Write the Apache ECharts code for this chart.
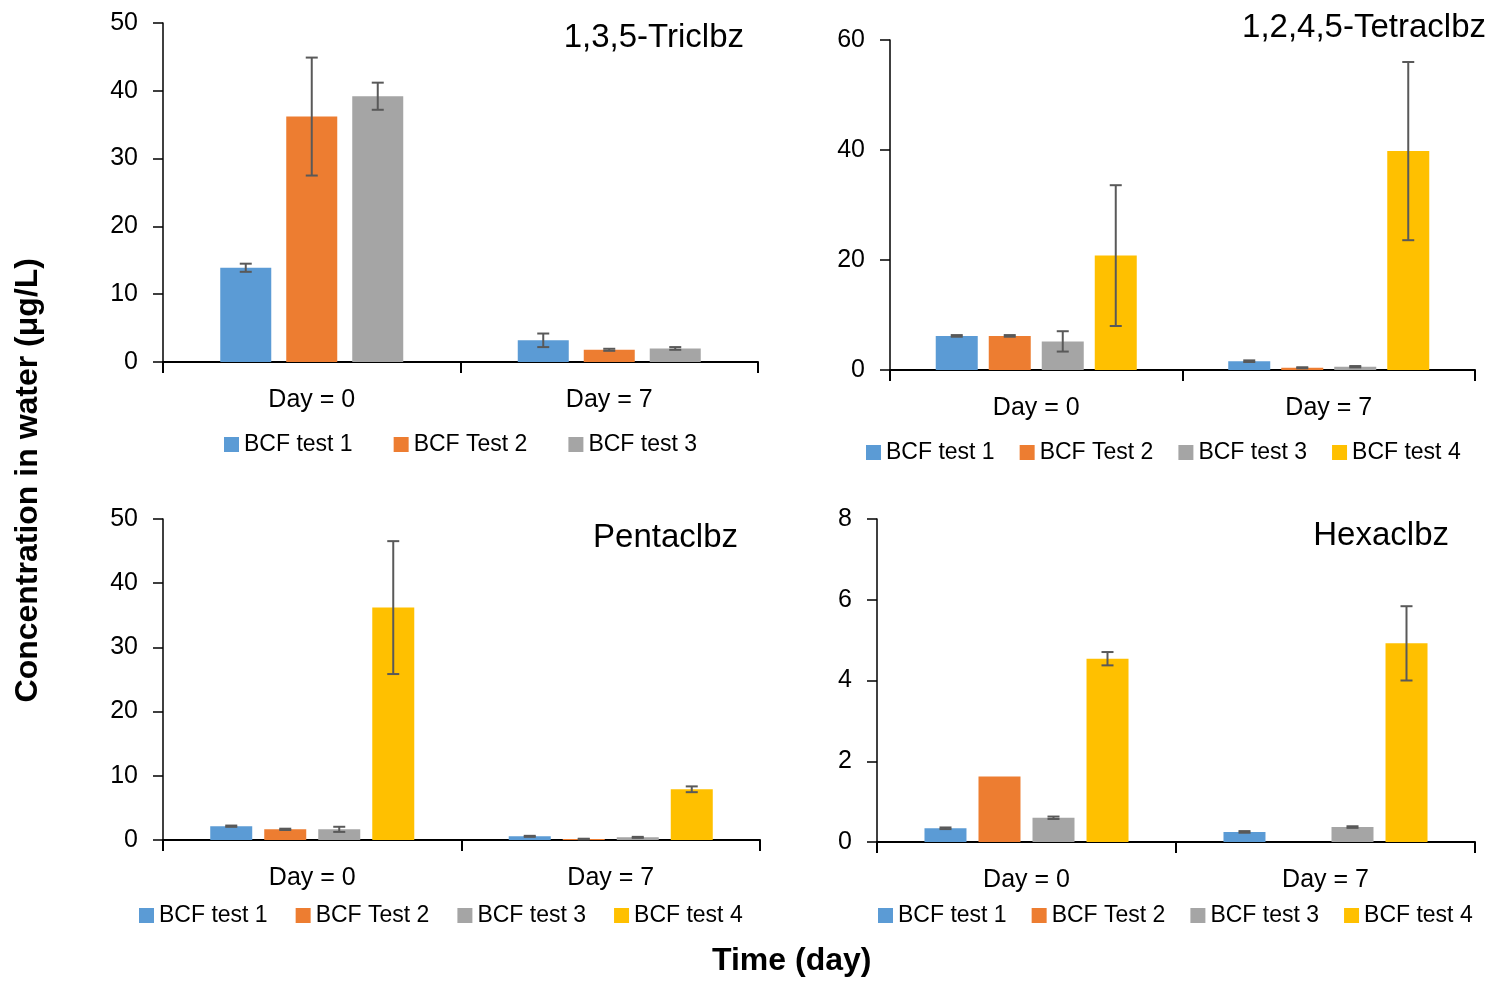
<!DOCTYPE html>
<html>
<head>
<meta charset="utf-8">
<script src="https://cdn.jsdelivr.net/npm/echarts@6/dist/echarts.min.js"></script>
<style>html,body{margin:0;padding:0;background:#fff;}#chart{width:1493px;height:981px;}</style>
</head>
<body>
<div id="chart"></div>
<script>
// ---------- DATA ----------
const categories = ['Day = 0', 'Day = 7'];
const testNames = ['BCF test 1', 'BCF Test 2', 'BCF test 3', 'BCF test 4'];
const panelTitles = ['1,3,5-Triclbz', '1,2,4,5-Tetraclbz', 'Pentaclbz', 'Hexaclbz'];

const yMax = [50, 60, 50, 8];
const yInterval = [10, 20, 10, 2];

// 1,3,5-Triclbz
const triTest1 = [13.9, 3.2];   const triTest1Err = [0.6, 1.0];
const triTest2 = [36.2, 1.8];   const triTest2Err = [8.7, 0.15];
const triTest3 = [39.2, 2.0];   const triTest3Err = [2.0, 0.2];

// 1,2,4,5-Tetraclbz
const tetraTest1 = [6.2, 1.6];  const tetraTest1Err = [0.15, 0.15];
const tetraTest2 = [6.2, 0.4];  const tetraTest2Err = [0.15, 0.1];
const tetraTest3 = [5.2, 0.6];  const tetraTest3Err = [1.85, 0.12];
const tetraTest4 = [20.8, 39.8]; const tetraTest4Err = [12.8, 16.2];

// Pentaclbz
const pentaTest1 = [2.15, 0.57]; const pentaTest1Err = [0.1, 0.08];
const pentaTest2 = [1.66, 0.15]; const pentaTest2Err = [0.1, 0.05];
const pentaTest3 = [1.66, 0.41]; const pentaTest3Err = [0.4, 0.08];
const pentaTest4 = [36.2, 7.9];  const pentaTest4Err = [10.35, 0.45];

// Hexaclbz
const hexaTest1 = [0.34, 0.25]; const hexaTest1Err = [0.02, 0.02];
const hexaTest2 = [1.62, null]; const hexaTest2Err = [null, null];
const hexaTest3 = [0.60, 0.37]; const hexaTest3Err = [0.03, 0.02];
const hexaTest4 = [4.54, 4.92]; const hexaTest4Err = [0.165, 0.92];

const panelValues = [
  [triTest1, triTest2, triTest3],
  [tetraTest1, tetraTest2, tetraTest3, tetraTest4],
  [pentaTest1, pentaTest2, pentaTest3, pentaTest4],
  [hexaTest1, hexaTest2, hexaTest3, hexaTest4]
];
const panelErrors = [
  [triTest1Err, triTest2Err, triTest3Err],
  [tetraTest1Err, tetraTest2Err, tetraTest3Err, tetraTest4Err],
  [pentaTest1Err, pentaTest2Err, pentaTest3Err, pentaTest4Err],
  [hexaTest1Err, hexaTest2Err, hexaTest3Err, hexaTest4Err]
];

// ---------- LAYOUT / STYLE ----------
const colors = ['#5B9BD5', '#ED7D31', '#A5A5A5', '#FFC000'];
const FONT = "'Liberation Sans', Arial, sans-serif";
const W = 1493, H = 981;
const grids = [
  {left: 163, top: 23, width: 595, height: 339},
  {left: 890, top: 40, width: 585, height: 330},
  {left: 163, top: 519, width: 597, height: 321},
  {left: 877, top: 519, width: 598, height: 323}
];
const barW = [51, 42, 42, 42];
const barGapPx = [15, 11, 12, 12];
const titlePos = [
  {right: W - 744, top: 21},
  {right: W - 1486, top: 11},
  {right: W - 738, top: 521},
  {right: W - 1449, top: 519}
];
const legendPos = [
  {left: 224, top: 433, itemGap: 41},
  {left: 866, top: 441, itemGap: 25},
  {left: 139, top: 904, itemGap: 28},
  {left: 878, top: 904, itemGap: 25}
];

const option = {
  animation: false,
  backgroundColor: '#fff',
  textStyle: {fontFamily: FONT},
  title: [], legend: [], grid: [], xAxis: [], yAxis: [], series: [],
  graphic: [
    {type: 'text', left: 12, top: 258, rotation: Math.PI / 2,
     style: {text: 'Concentration in water (μg/L)', font: 'bold 32px ' + FONT, fill: '#000'}},
    {type: 'text', left: 712, top: 945,
     style: {text: 'Time (day)', font: 'bold 32px ' + FONT, fill: '#000'}}
  ]
};

panelValues.forEach((vals, p) => {
  const g = grids[p];
  option.grid.push({left: g.left, top: g.top, width: g.width, height: g.height, containLabel: false});
  option.title.push({
    text: panelTitles[p], right: titlePos[p].right, top: titlePos[p].top, padding: 0,
    textStyle: {fontFamily: FONT, fontSize: 33, fontWeight: 'normal', color: '#000'}
  });
  const n = vals.length;
  option.legend.push({
    data: testNames.slice(0, n), padding: 0,
    left: legendPos[p].left, top: legendPos[p].top, itemGap: legendPos[p].itemGap,
    icon: 'rect', itemWidth: 15, itemHeight: 15, selectedMode: false,
    textStyle: {fontFamily: FONT, fontSize: 23, color: '#000', padding: [0, 0, 0, 0]}
  });
  option.xAxis.push({
    type: 'category', gridIndex: p, data: categories,
    axisLine: {lineStyle: {color: '#000', width: 2}},
    axisTick: {show: true, length: 11, lineStyle: {color: '#000', width: 2}},
    axisLabel: {fontFamily: FONT, fontSize: 25, color: '#000', margin: 26},
    splitLine: {show: false}
  });
  option.yAxis.push({
    type: 'value', gridIndex: p, min: 0, max: yMax[p], interval: yInterval[p],
    axisLine: {show: true, lineStyle: {color: '#000', width: 1.5}},
    axisTick: {show: true, length: 10, lineStyle: {color: '#000', width: 1.5}},
    axisLabel: {fontFamily: FONT, fontSize: 25, color: '#000', margin: 25},
    splitLine: {show: false}
  });
  const step = barW[p] + barGapPx[p];
  vals.forEach((arr, i) => {
    option.series.push({
      type: 'bar', name: testNames[i], xAxisIndex: p, yAxisIndex: p,
      data: arr, barWidth: barW[p], barGap: (barGapPx[p] / barW[p] * 100).toFixed(1) + '%',
      itemStyle: {color: colors[i]}
    });
  });
  vals.forEach((arr, i) => {
    const errs = panelErrors[p][i];
    const data = [];
    arr.forEach((v, k) => { if (v != null && errs[k] != null) data.push([k, v, errs[k]]); });
    const offset = (i - (n - 1) / 2) * step;
    option.series.push({
      type: 'custom', xAxisIndex: p, yAxisIndex: p, z: 10, silent: true,
      data: data,
      renderItem: function (params, api) {
        const c = api.value(0), v = api.value(1), e = api.value(2);
        const hi = api.coord([c, v + e]);
        const lo = api.coord([c, v - e]);
        const x = hi[0] + offset;
        const cap = 6;
        const st = {stroke: '#595959', lineWidth: 2};
        return {type: 'group', children: [
          {type: 'line', shape: {x1: x, y1: hi[1], x2: x, y2: lo[1]}, style: st},
          {type: 'line', shape: {x1: x - cap, y1: hi[1], x2: x + cap, y2: hi[1]}, style: st},
          {type: 'line', shape: {x1: x - cap, y1: lo[1], x2: x + cap, y2: lo[1]}, style: st}
        ]};
      }
    });
  });
});

const chart = echarts.init(document.getElementById('chart'), null, {renderer: 'canvas'});
chart.setOption(option);
</script>
</body>
</html>
